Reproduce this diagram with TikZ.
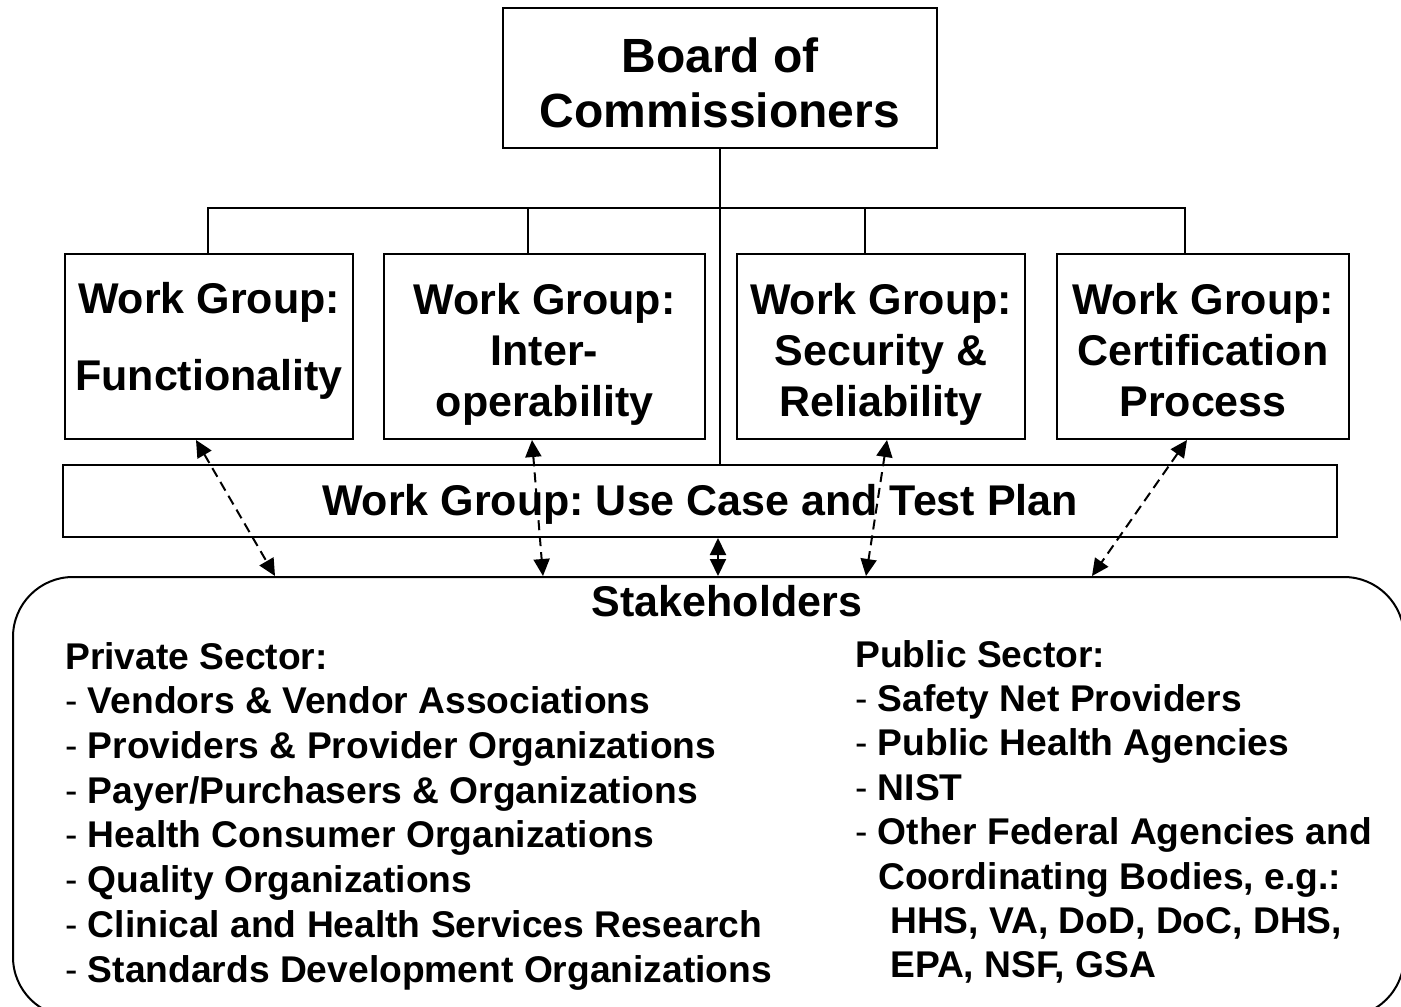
\documentclass[tikz,border=0pt]{standalone}
\usepackage{fontspec}
\setmainfont{Liberation Sans}
\usetikzlibrary{arrows.meta}
\newcommand{\wgtop}{\rule{0pt}{47pt}}
\newcommand{\wgbot}{\rule[-10pt]{0pt}{10pt}}
\begin{document}
\frenchspacing
\begin{tikzpicture}[x=1pt,y=-1pt,
  box/.style={draw, line width=2pt, inner sep=0pt, align=center, font=\fontsize{43}{51}\selectfont\bfseries},
  conn/.style={line width=1.5pt},
  darr/.style={line width=2pt, dash pattern=on 10pt off 6pt, {Triangle[length=17pt,width=16pt]}-{Triangle[length=17pt,width=16pt]}},
  sarr/.style={line width=2pt, {Triangle[length=17pt,width=16pt]}-{Triangle[length=17pt,width=16pt]}},
  lst/.style={inner sep=0pt, align=left, anchor=north west, font=\fontsize{37.2}{44.7}\selectfont\bfseries}]
\useasboundingbox (0,0) rectangle (1401,1007);
\fill[white] (0,0) rectangle (1401,1007);
% boxes
\node[box, minimum width=434, minimum height=140, font=\fontsize{48}{55}\selectfont\bfseries] (board) at (720,78) {\rule{0pt}{46pt}Board of\\Commissioners\rule[-2pt]{0pt}{2pt}};
\node[box, minimum width=288, minimum height=185] (wg1) at (209,346.5) {Work Group:\\[26pt]Functionality\\[-31pt]\mbox{}};
\node[box, minimum width=321, minimum height=185] (wg2) at (544.5,346.5) {\wgtop Work Group:\\Inter-\\operability\wgbot};
\node[box, minimum width=288, minimum height=185] (wg3) at (881,346.5) {\wgtop Work Group:\\Security \&\\Reliability\wgbot};
\node[box, minimum width=292, minimum height=185] (wg4) at (1203,346.5) {\wgtop Work Group:\\Certification\\Process\wgbot};
\node[box, minimum width=1274, minimum height=72, text height=38pt, text depth=9pt] (usecase) at (700,501) {Work Group: Use Case and Test Plan};
\node[draw, line width=2pt, rounded corners=60pt, inner sep=0pt, minimum width=1391, minimum height=440, anchor=north west] (sh) at (12,576) {};
% tree connectors
\draw[conn] (board.south) -- (board.south |- usecase.north);
\draw[conn] (208,0 |- wg1.north) -- (208,208) -- (1185,208) -- (1185,0 |- wg4.north);
\draw[conn] (528,208) -- (528,0 |- wg2.north);
\draw[conn] (865,208) -- (865,0 |- wg3.north);
% arrows
\draw[darr] (196,0 |- wg1.south) -- (275,0 |- sh.north);
\draw[darr] (532,0 |- wg2.south) -- (543,0 |- sh.north);
\draw[sarr] (718,0 |- usecase.south) -- (718,0 |- sh.north);
\draw[darr] (887,0 |- wg3.south) -- (866,0 |- sh.north);
\draw[darr] (1187,0 |- wg4.south) -- (1092,0 |- sh.north);
% stakeholders text
\node[inner sep=0pt, font=\fontsize{43}{51}\selectfont\bfseries] (shtitle) at (727,601) {Stakeholders};
\node[lst] (priv) at (65,642) {Private Sector:\\
\textmd{-} Vendors \& Vendor Associations\\
\textmd{-} Providers \& Provider Organizations\\
\textmd{-} Payer/Purchasers \& Organizations\\
\textmd{-} Health Consumer Organizations\\
\textmd{-} Quality Organizations\\
\textmd{-} Clinical and Health Services Research\\
\textmd{-} Standards Development Organizations};
\node[lst, font=\fontsize{37.2}{44.4}\selectfont\bfseries] (pub) at (855,640) {Public Sector:\\
\textmd{-} Safety Net Providers\\
\textmd{-} Public Health Agencies\\
\textmd{-} NIST\\
\textmd{-} Other Federal Agencies and\\
\hspace*{23pt}Coordinating Bodies, e.g.:\\
\hspace*{35pt}HHS, VA, DoD, DoC, DHS,\\
\hspace*{35pt}EPA, NSF, GSA};
\end{tikzpicture}
\end{document}
